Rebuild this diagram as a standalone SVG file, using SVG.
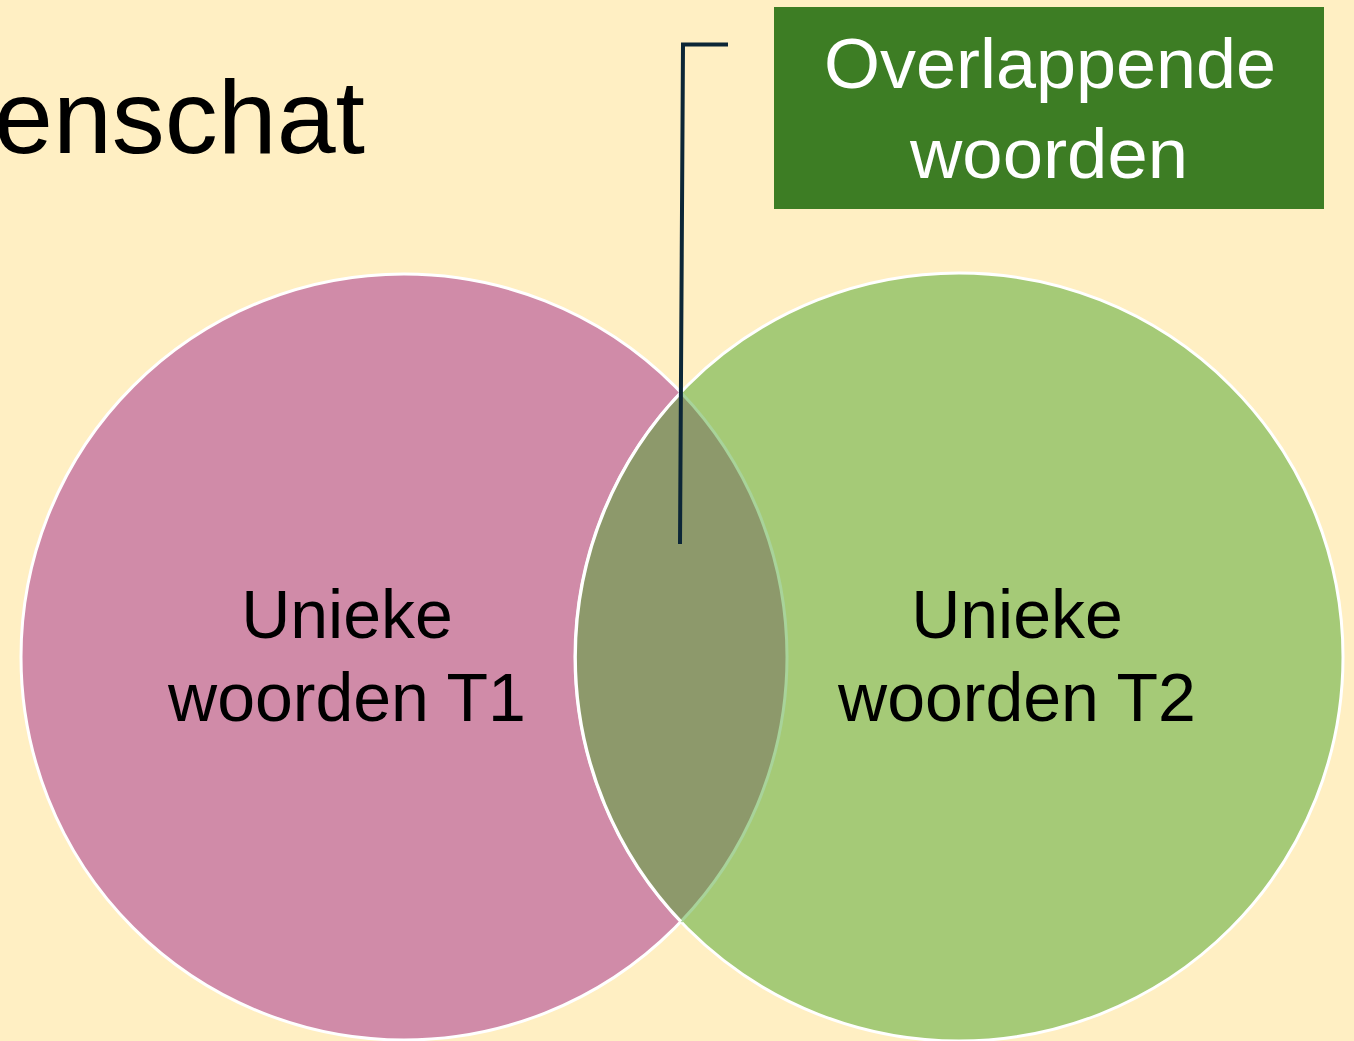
<svg xmlns="http://www.w3.org/2000/svg" width="1354" height="1041" viewBox="0 0 1354 1041">
<style>
.lbl{font-family:"Liberation Sans",Arial,sans-serif;font-size:68px;fill:#000;text-anchor:middle}
.box{font-family:"Liberation Sans",Arial,sans-serif;font-size:71px;fill:#fff;text-anchor:middle}
.title{font-family:"Liberation Sans",Arial,sans-serif;font-size:104px;fill:#000}
.circ{stroke:#fff;stroke-width:3}
</style>
<rect width="1354" height="1041" fill="#FFEFC3"/>
<text class="title" x="-6" y="153" textLength="371" lengthAdjust="spacingAndGlyphs">enschat</text>
<g id="t1">
<circle class="circ" cx="404" cy="657" r="383" fill="#D08BA8"/>
<text class="lbl" x="347" y="638">Unieke</text>
<text class="lbl" x="347" y="721">woorden T1</text>
</g>
<g id="t2">
<circle class="circ" cx="959" cy="657" r="384" fill="#A5CA77"/>
<path d="M681,392.5 A383,383 0 0 1 681,921.5 A384,384 0 0 1 681,392.5 Z" fill="#8D996B"/>
<path d="M681,392.5 A383,383 0 0 1 681,921.5" fill="none" stroke="#A8D39A" stroke-width="3"/>
<path d="M681,921.5 A384,384 0 0 1 681,392.5" fill="none" stroke="#fff" stroke-width="3"/>
<text class="lbl" x="1017" y="638">Unieke</text>
<text class="lbl" x="1017" y="721">woorden T2</text>
</g>
<g id="overlap">
<rect x="774" y="7" width="550" height="202" fill="#3D7D24"/>
<text class="box" x="1050" y="88" textLength="452" lengthAdjust="spacingAndGlyphs">Overlappende</text>
<text class="box" x="1049" y="178" textLength="278" lengthAdjust="spacingAndGlyphs">woorden</text>
</g>
<g id="connectors">
<polyline points="680,544 683,44.5 728,44.5" fill="none" stroke="#0C2637" stroke-width="4"/>
</g>
</svg>
